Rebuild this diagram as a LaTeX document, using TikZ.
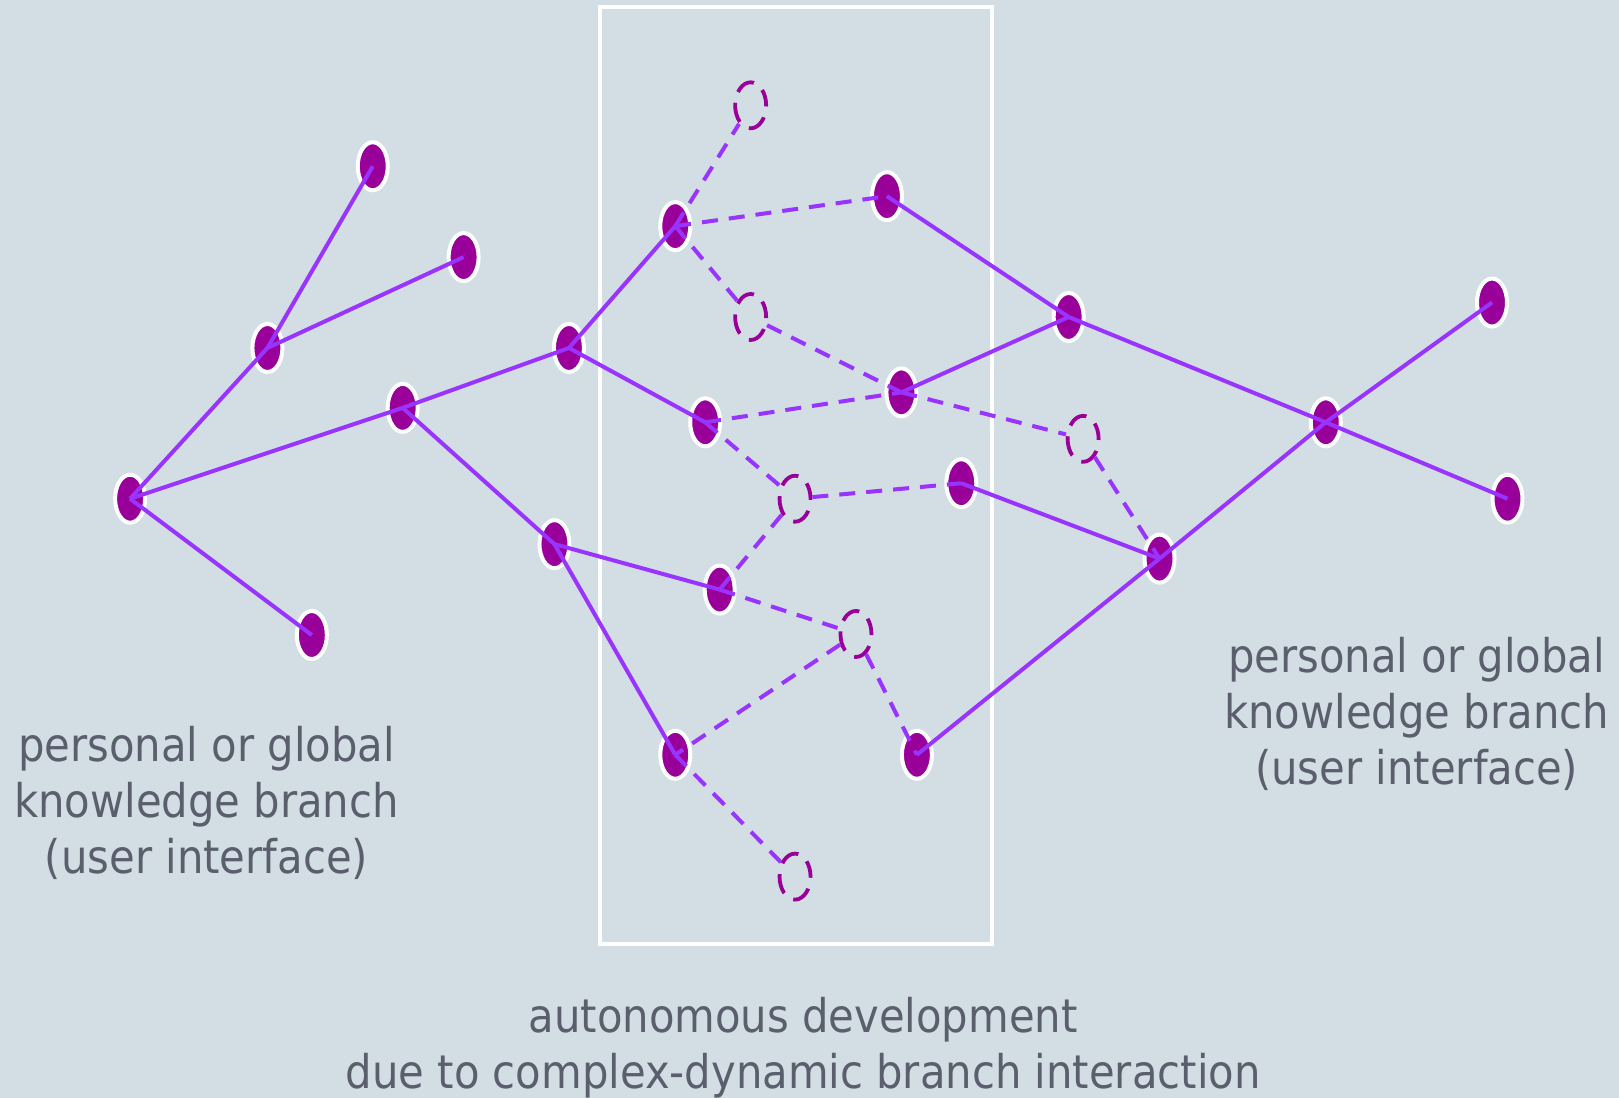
\documentclass[tikz,border=0pt]{standalone}
\usepackage{fontspec}
\setmainfont{DejaVu Sans Condensed}
\usetikzlibrary{shapes.geometric}
\definecolor{bgcol}{HTML}{D3DEE4}
\definecolor{nodepurple}{HTML}{990099}
\definecolor{linepurple}{HTML}{9933FF}
\definecolor{textgrey}{HTML}{5B5F6D}
\tikzset{
  fnode/.style={ellipse, fill=nodepurple, draw=white, line width=2pt, minimum width=15pt, minimum height=24pt, inner sep=0pt},
  dnode/.style={ellipse, draw=nodepurple, line width=1.9pt, dash pattern=on 10pt off 5.6pt, dash phase=2pt, minimum width=15.5pt, minimum height=23pt, inner sep=0pt},
  solidedge/.style={draw=linepurple, line width=2pt},
  dashedge/.style={draw=linepurple, line width=2pt, dash pattern=on 8pt off 5.5pt},
  lbl/.style={text=textgrey, align=center, font=\fontsize{23.2}{28}\selectfont, inner sep=0pt},
  frame/.style={draw=white, line width=2.2pt}
}
\begin{document}
\begin{tikzpicture}[x=0.51625pt,y=-0.51625pt]
\fill[bgcol] (0,0) rectangle (1568,1063.4);
\useasboundingbox (0,0) rectangle (1568,1063.4);
\coordinate (fr1) at (581,7);
\coordinate (fr2) at (961,914);
\draw[frame] (fr1) rectangle (fr2);
% nodes
\node[fnode] (A) at (126,483) {};
\node[fnode] (B) at (259,337) {};
\node[fnode] (C) at (361,161) {};
\node[fnode] (D) at (449,249) {};
\node[fnode] (E) at (390,395) {};
\node[fnode] (F) at (302,615) {};
\node[fnode] (G) at (551,337) {};
\node[fnode] (H) at (537,527) {};
\node[fnode] (I) at (654,219) {};
\node[dnode] (J) at (727,102) {};
\node[fnode] (K) at (859,190) {};
\node[dnode] (L) at (727,307) {};
\node[fnode] (M) at (873,380) {};
\node[fnode] (N) at (683,409) {};
\node[dnode] (O) at (770,483) {};
\node[fnode] (P) at (931,468) {};
\node[fnode] (Q) at (697,571) {};
\node[dnode] (R) at (829,614) {};
\node[fnode] (S) at (654,731) {};
\node[fnode] (T) at (888,731) {};
\node[dnode] (U) at (770,849) {};
\node[fnode] (V) at (1035,307) {};
\node[dnode] (W) at (1049,425) {};
\node[fnode] (X) at (1123,541) {};
\node[fnode] (Y) at (1284,409) {};
\node[fnode] (Z) at (1445,293) {};
\node[fnode] (AA) at (1460,483) {};
% solid edges
\draw[solidedge] (A.center) -- (B.center);
\draw[solidedge] (B.center) -- (C.center);
\draw[solidedge] (B.center) -- (D.center);
\draw[solidedge] (A.center) -- (E.center);
\draw[solidedge] (A.center) -- (F.center);
\draw[solidedge] (E.center) -- (G.center);
\draw[solidedge] (E.center) -- (H.center);
\draw[solidedge] (G.center) -- (I.center);
\draw[solidedge] (G.center) -- (N.center);
\draw[solidedge] (H.center) -- (Q.center);
\draw[solidedge] (H.center) -- (S.center);
\draw[solidedge] (K.center) -- (V.center);
\draw[solidedge] (M.center) -- (V.center);
\draw[solidedge] (V.center) -- (Y.center);
\draw[solidedge] (P.center) -- (X.center);
\draw[solidedge] (T.center) -- (X.center);
\draw[solidedge] (X.center) -- (Y.center);
\draw[solidedge] (Y.center) -- (Z.center);
\draw[solidedge] (Y.center) -- (AA.center);
% dashed edges
\draw[dashedge] (I.center) -- (J);
\draw[dashedge] (I.center) -- (K.center);
\draw[dashedge] (I.center) -- (L);
\draw[dashedge] (L) -- (M.center);
\draw[dashedge] (N.center) -- (M.center);
\draw[dashedge] (N.center) -- (O);
\draw[dashedge] (O) -- (P.center);
\draw[dashedge] (O) -- (Q.center);
\draw[dashedge] (Q.center) -- (R);
\draw[dashedge] (R) -- (S.center);
\draw[dashedge] (R) -- (T.center);
\draw[dashedge] (S.center) -- (U);
\draw[dashedge] (M.center) -- (W);
\draw[dashedge] (W) -- (X.center);
% labels
\node[lbl] (lt) at (200,778) {personal or global\\knowledge branch\\(user interface)};
\node[lbl] (rt) at (1372,691) {personal or global\\knowledge branch\\(user interface)};
\node[lbl] (bt) at (778,1015) {autonomous development\\due to complex-dynamic branch interaction};
\end{tikzpicture}
\end{document}
